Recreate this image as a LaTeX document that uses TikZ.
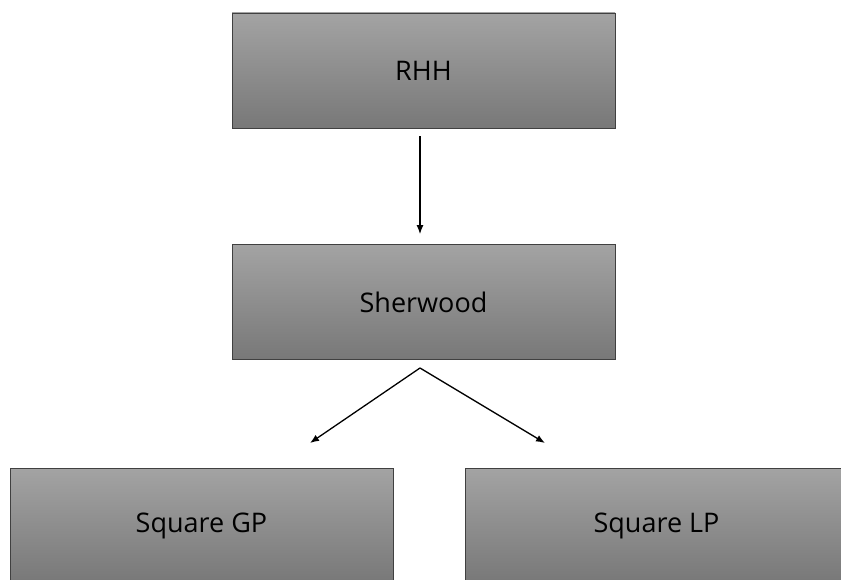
\documentclass[tikz,border=0pt]{standalone}
\usepackage{fontspec}
\setmainfont{Open Sans}
\usetikzlibrary{shapes,arrows,arrows.meta,positioning,calc}

\begin{document}
\begin{tikzpicture}[x=1pt,y=1pt,
    orgbox/.style={draw=black!75,line width=0.8pt,rectangle,top color=black!36,bottom color=black!53,
        minimum width=383pt,minimum height=115pt,inner sep=0pt,font=\fontsize{27}{32}\selectfont},
    link/.style={-{Latex[length=9pt,width=7pt]},line width=1.3pt}]
    \useasboundingbox (0,0) rectangle (841,-580);
    \clip (0,0) rectangle (841,-580);

    \node[orgbox] (rhh) at (423.5,-70.5) {RHH};
    \node[orgbox] (sherwood) at (423.5,-302) {Sherwood};

    \node[orgbox] (gp) at (201.5,-525.5) {Square GP};
    \node[orgbox] (lp) at (656.5,-525.5) {Square LP};

    \draw[link,shorten <=8pt,shorten >=10pt] (rhh.south -| 420,0) -- (sherwood.north -| 420,0);

    \coordinate (fork) at (420,-368);
    \coordinate (gptip) at (310,-443);
    \coordinate (lptip) at (545,-443);
    \draw[link] (fork) -- (gptip);
    \draw[link] (fork) -- (lptip);
\end{tikzpicture}
\end{document}
